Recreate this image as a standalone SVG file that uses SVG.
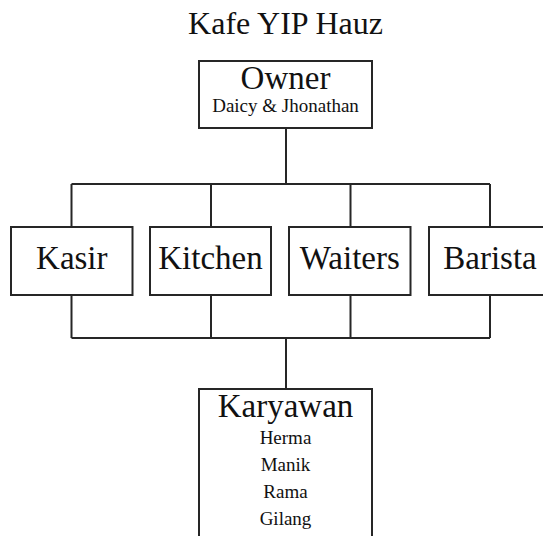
<svg xmlns="http://www.w3.org/2000/svg" width="543" height="536" viewBox="0 0 543 536">
<style>
.box{fill:#fff;stroke:#262626;stroke-width:2}
.ln{fill:none;stroke:#262626;stroke-width:2}
text{font-family:"Liberation Serif","Times New Roman",serif;fill:#111;text-anchor:middle}
.t{font-size:32px}
.m{font-size:33px}
.s{font-size:19px}
</style>
<rect width="543" height="536" fill="#fff"/>
<text id="title" class="t" x="285.5" y="34">Kafe YIP Hauz</text>
<g id="connectors">
<path class="ln" d="M286 128V184M71.5 184H490M71.5 184V227M211 184V227M350.5 184V227M490 184V227"/>
<path class="ln" d="M71.5 295V338M211 295V338M350.5 295V338M490 295V338M71.5 338H490M286 338V389"/>
</g>
<g id="owner">
<rect class="box" x="199" y="61" width="173" height="67"/>
<text class="m" x="285.5" y="89">Owner</text>
<text class="s" x="285.5" y="112">Daicy &amp; Jhonathan</text>
</g>
<g id="kasir">
<rect class="box" x="11" y="227" width="121.5" height="68"/>
<text class="m" x="71.8" y="269">Kasir</text>
</g>
<g id="kitchen">
<rect class="box" x="150" y="227" width="121" height="68"/>
<text class="m" x="210.5" y="269">Kitchen</text>
</g>
<g id="waiters">
<rect class="box" x="289" y="227" width="121.5" height="68"/>
<text class="m" x="349.8" y="269">Waiters</text>
</g>
<g id="barista">
<rect class="box" x="429" y="227" width="122" height="68"/>
<text class="m" x="490" y="269">Barista</text>
</g>
<g id="karyawan">
<rect class="box" x="199" y="389" width="173" height="160"/>
<text class="m" x="285.5" y="417">Karyawan</text>
<text class="s" x="285.5" y="444">Herma</text>
<text class="s" x="285.5" y="471">Manik</text>
<text class="s" x="285.5" y="498">Rama</text>
<text class="s" x="285.5" y="525">Gilang</text>
</g>
</svg>
